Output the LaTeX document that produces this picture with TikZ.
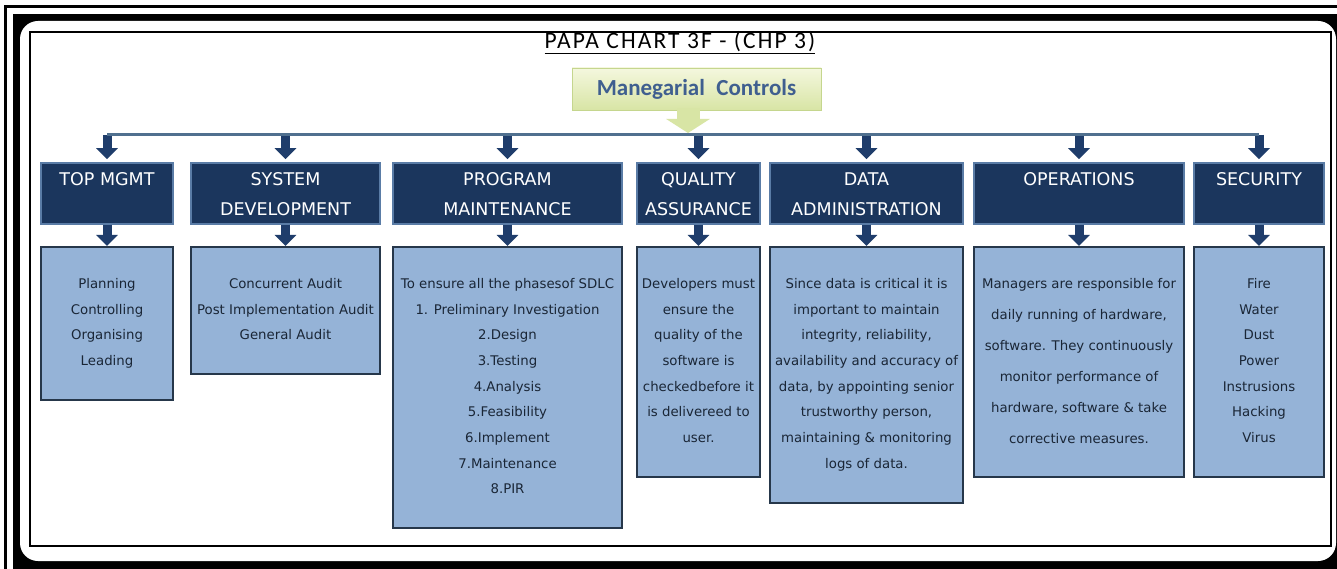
\documentclass[tikz,border=0pt]{standalone}
\usepackage{fontspec}
\setmainfont{DejaVu Sans}
\newfontfamily\titlefont[LetterSpace=9]{Carlito}
\newfontfamily\calloutfont{Carlito}
\usetikzlibrary{arrows.meta,positioning}

\definecolor{hdrblue}{HTML}{1B365D}
\definecolor{hdredge}{HTML}{5A7CA6}
\definecolor{boxblue}{HTML}{95B3D7}
\definecolor{boxedge}{HTML}{26374A}
\definecolor{arrowblue}{HTML}{1F3D6B}
\definecolor{busblue}{HTML}{50708F}
\definecolor{mgrtop}{HTML}{F4F7DE}
\definecolor{mgrbot}{HTML}{D8E5A5}
\definecolor{mgredge}{HTML}{C5D68E}
\definecolor{mgrtext}{HTML}{3F5F8F}
\definecolor{inktext}{HTML}{1A2636}

\tikzset{
    hdr/.style={draw=hdredge, line width=1.5pt, fill=hdrblue,
        minimum height=61pt, inner sep=0pt},
    hdrtext/.style={text=white, align=center, inner sep=0pt,
        font=\fontsize{17.5}{30}\selectfont},
    cbox/.style={draw=boxedge, line width=1.5pt, fill=boxblue,
        inner sep=0pt, anchor=north},
    ctext/.style={text=inktext, align=center, inner sep=0pt,
        font=\fontsize{13.3}{25.7}\selectfont},
    darrow/.style={line width=9pt, draw=arrowblue,
        -{Triangle[width=21pt,length=11pt]}},
}

\begin{document}
\begin{tikzpicture}[x=1pt, y=-1pt]
    \useasboundingbox (0,0) rectangle (1337,569);
    \clip (0,0) rectangle (1337,569);
    \fill[white] (0,0) rectangle (1337,569);

    % page frame
    \draw[line width=3pt] (5.5,575) -- (5.5,7) -- (1345,7);
    \fill (13,14) rectangle (1345,575);
    \fill[white, rounded corners=18pt] (20,21) rectangle (1336,561);
    \draw[line width=1.5pt] (30,32) rectangle (1331,546);

    \node[anchor=base, inner sep=0pt,
        font=\titlefont\fontsize{23.5}{28}\selectfont] (title) at (680,49)
        {\underline{PAPA CHART 3F - (CHP 3)}};

    \foreach \n/\cx/\w/\bot in {top/107/132/399, sys/285.5/189/373,
            prog/507.5/229/527, qual/698.5/123/476, data/866.5/193/502,
            ops/1079/210/476, sec/1259/130/476}{
        \coordinate (bus-\n) at (\cx,135);
        \node[hdr, minimum width=\w] (h-\n) at (\cx,193.5) {};
        \node[cbox, minimum width=\w, minimum height=\bot-246] (c-\n) at (\cx,246) {};
        \draw[darrow, shorten >=3pt] (bus-\n) -- (h-\n);
        \draw[darrow] (h-\n) -- (c-\n);
    }
    \draw[line width=3pt, busblue] (bus-top) -- (bus-sec);

    \node[draw=mgredge, top color=mgrtop, bottom color=mgrbot,
        minimum width=249pt, minimum height=42pt, inner sep=0pt, text=mgrtext,
        font=\calloutfont\bfseries\fontsize{23}{27}\selectfont] (mgr) at (696.5,89)
        {Manegarial\hspace{0.5em}Controls};
    \coordinate (mgr-tip) at (688,133);
    \draw[line width=23pt, draw=mgrbot, shorten <=-2pt,
        -{Triangle[width=43pt,length=14pt]}] (mgr.south -| mgr-tip) -- (mgr-tip);

    % header labels
    \node[hdrtext, below=10pt] (ht-top) at (h-top.north) {TOP MGMT};
    \node[hdrtext, below=10pt] (ht-sys) at (h-sys.north) {SYSTEM\\DEVELOPMENT};
    \node[hdrtext, below=10pt] (ht-prog) at (h-prog.north) {PROGRAM\\MAINTENANCE};
    \node[hdrtext, below=10pt] (ht-qual) at (h-qual.north) {QUALITY\\ASSURANCE};
    \node[hdrtext, below=10pt] (ht-data) at (h-data.north) {DATA\\ADMINISTRATION};
    \node[hdrtext, below=10pt] (ht-ops) at (h-ops.north) {OPERATIONS};
    \node[hdrtext, below=10pt] (ht-sec) at (h-sec.north) {SECURITY};

    % box texts
    \node[ctext, below=32pt] (ct-top) at (c-top.north)
        {Planning\\Controlling\\Organising\\Leading};
    \node[ctext, below=32pt] (ct-sys) at (c-sys.north)
        {Concurrent Audit\\Post Implementation Audit\\General Audit};
    \node[ctext, below=32pt] (ct-prog) at (c-prog.north)
        {To ensure all the phasesof SDLC\\1. Preliminary Investigation\\2.Design\\
         3.Testing\\4.Analysis\\5.Feasibility\\6.Implement\\7.Maintenance\\8.PIR};
    \node[ctext, below=32pt] (ct-qual) at (c-qual.north)
        {Developers must\\ensure the\\quality of the\\software is\\
         checkedbefore it\\is delivereed to\\user.};
    \node[ctext, below=32pt] (ct-data) at (c-data.north)
        {Since data is critical it is\\important to maintain\\integrity, reliability,\\
         availability and accuracy of\\data, by appointing senior\\trustworthy person,\\
         maintaining \& monitoring\\logs of data.};
    \node[ctext, below=32pt, font=\fontsize{13.3}{31}\selectfont] (ct-ops) at (c-ops.north)
        {Managers are responsible for\\daily running of hardware,\\
         software. They continuously\\monitor performance of\\
         hardware, software \& take\\corrective measures.};
    \node[ctext, below=32pt] (ct-sec) at (c-sec.north)
        {Fire\\Water\\Dust\\Power\\Instrusions\\Hacking\\Virus};
\end{tikzpicture}
\end{document}
